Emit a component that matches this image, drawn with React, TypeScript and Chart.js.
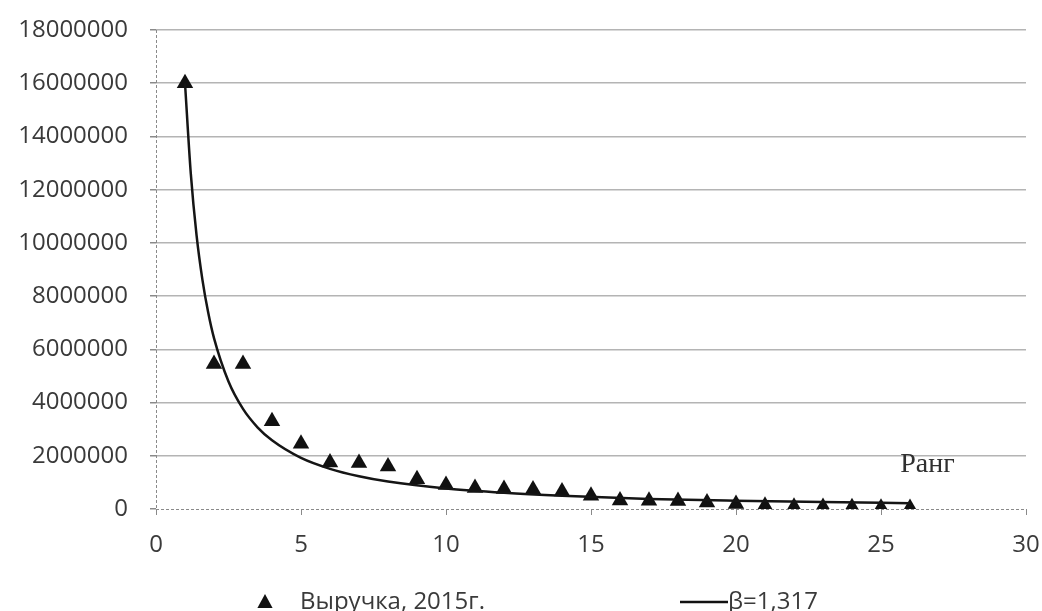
import React, { useEffect, useRef } from "react";
import { Chart, registerables } from "chart.js";

Chart.register(...registerables);

// Rank (x) and revenue 2015 (y) of the companies
const ranks = [1, 2, 3, 4, 5, 6, 7, 8, 9, 10, 11, 12, 13, 14, 15, 16, 17, 18, 19, 20, 21, 22, 23, 24, 25, 26];
const revenue = [
  16000000, 5450000, 5450000, 3300000, 2450000, 1750000, 1730000, 1600000, 1120000, 900000,
  790000, 750000, 730000, 660000, 500000, 320000, 310000, 300000, 240000, 190000,
  120000, 80000, 75000, 65000, 50000, 40000,
];

// Power trend line (β = 1,317)
const trendX = [1, 1.2, 1.4, 1.6, 1.8, 2, 2.5, 3, 3.5, 4, 5, 6, 7, 8, 10, 12, 14, 17, 20, 23, 26];
const trendY = [
  16000000, 12600000, 10270000, 8620000, 7380000, 6420000, 4790000, 3760000, 3070000, 2580000,
  1920000, 1510000, 1230000, 1030000, 770000, 610000, 500000, 380000, 310000, 260000, 220000,
];

const seriesLabel = "Выручка, 2015г.";
const trendLabel = "β=1,317";
const axisLabel = "Ранг";

const xMin = 0, xMax = 30, xStep = 5;
const yMin = 0, yMax = 18000000, yStep = 2000000;

const TICK_FONT = { family: "'Open Sans', 'Noto Sans', sans-serif", size: 24 };
const TEXT_COLOR = "#3a3a3a";
const AXIS_COLOR = "#8a8a8a";

const axesPlugin = {
  id: "dottedAxes",
  beforeDatasetsDraw(chart: any) {
    const { ctx, chartArea } = chart;
    ctx.save();
    ctx.strokeStyle = AXIS_COLOR;
    ctx.lineWidth = 1;
    ctx.setLineDash([3, 2]);
    ctx.beginPath();
    ctx.moveTo(chartArea.left + 0.5, chartArea.top);
    ctx.lineTo(chartArea.left + 0.5, chartArea.bottom);
    ctx.moveTo(chartArea.left, chartArea.bottom + 0.5);
    ctx.lineTo(chartArea.right, chartArea.bottom + 0.5);
    ctx.stroke();
    ctx.restore();
  },
};

const overlayPlugin = {
  id: "overlay",
  afterDraw(chart: any) {
    const { ctx } = chart;
    const xs = chart.scales.x;
    const ys = chart.scales.y;
    ctx.save();
    // "Ранг" caption
    ctx.font = "28px 'Liberation Serif', 'DejaVu Serif', serif";
    ctx.fillStyle = "#303030";
    ctx.textAlign = "center";
    ctx.textBaseline = "middle";
    ctx.fillText(axisLabel, xs.getPixelForValue(26.6), ys.getPixelForValue(1650000));

    // custom legend
    const ly = 602;
    ctx.font = "24px 'Open Sans', 'Noto Sans', sans-serif";
    ctx.textAlign = "left";
    ctx.textBaseline = "middle";
    const tx = 265, r = 8;
    ctx.beginPath();
    ctx.moveTo(tx, ly - r);
    ctx.lineTo(tx + r * 0.95, ly + r * 0.75);
    ctx.lineTo(tx - r * 0.95, ly + r * 0.75);
    ctx.closePath();
    ctx.fillStyle = "#111";
    ctx.fill();
    ctx.fillStyle = TEXT_COLOR;
    ctx.fillText(chart.data.datasets[0].label, 300, ly);
    ctx.beginPath();
    ctx.moveTo(680, ly);
    ctx.lineTo(728, ly);
    ctx.strokeStyle = "#111";
    ctx.lineWidth = 2.5;
    ctx.stroke();
    ctx.fillText(chart.data.datasets[1].label, 728, ly);
    ctx.restore();
  },
};

export default function App() {
  const canvasRef = useRef<HTMLCanvasElement | null>(null);

  useEffect(() => {
    const canvas = canvasRef.current;
    if (!canvas) return;
    const chart = new Chart(canvas, {
      type: "scatter",
      data: {
        datasets: [
          {
            label: seriesLabel,
            data: ranks.map((x, i) => ({ x, y: revenue[i] })),
            pointStyle: "triangle",
            pointRadius: 9.5,
            pointBackgroundColor: "#111",
            pointBorderColor: "#111",
            borderWidth: 0,
            order: 2,
          },
          {
            label: trendLabel,
            type: "line",
            data: trendX.map((x, i) => ({ x, y: trendY[i] })),
            borderColor: "#151515",
            borderWidth: 2.5,
            pointRadius: 0,
            fill: false,
            cubicInterpolationMode: "monotone",
            order: 1,
          },
        ],
      },
      options: {
        responsive: false,
        animation: false,
        layout: { padding: { left: 0, right: 16, top: 30, bottom: 52 } },
        plugins: {
          legend: { display: false },
          tooltip: { enabled: false },
        },
        scales: {
          x: {
            type: "linear",
            min: xMin,
            max: xMax,
            afterFit: (s: any) => {
              s.height = 50;
              s.paddingLeft = 0;
              s.paddingRight = 0;
            },
            ticks: { stepSize: xStep, color: TEXT_COLOR, font: TICK_FONT, padding: 16, maxRotation: 0 },
            grid: { drawOnChartArea: false, drawTicks: true, tickLength: 6, color: AXIS_COLOR },
            border: { display: false },
          },
          y: {
            type: "linear",
            min: yMin,
            max: yMax,
            afterFit: (s: any) => {
              s.width = 156;
              s.paddingTop = 0;
              s.paddingBottom = 0;
            },
            ticks: {
              stepSize: yStep,
              color: TEXT_COLOR,
              font: TICK_FONT,
              padding: 22,
              callback: (v: any) => String(v),
            },
            grid: {
              color: (c: any) => (c.tick && c.tick.value === 0 ? "rgba(0,0,0,0)" : "#b4b4b4"),
              tickColor: AXIS_COLOR,
              tickLength: 6,
              lineWidth: 1.5,
            },
            border: { display: false },
          },
        },
      },
      plugins: [axesPlugin, overlayPlugin],
    });
    return () => chart.destroy();
  }, []);

  return (
    <div style={{ position: "fixed", left: 0, top: 0, width: 1042, height: 611, background: "#fff" }}>
      <canvas ref={canvasRef} width={1042} height={611} style={{ width: 1042, height: 611 }} />
    </div>
  );
}
